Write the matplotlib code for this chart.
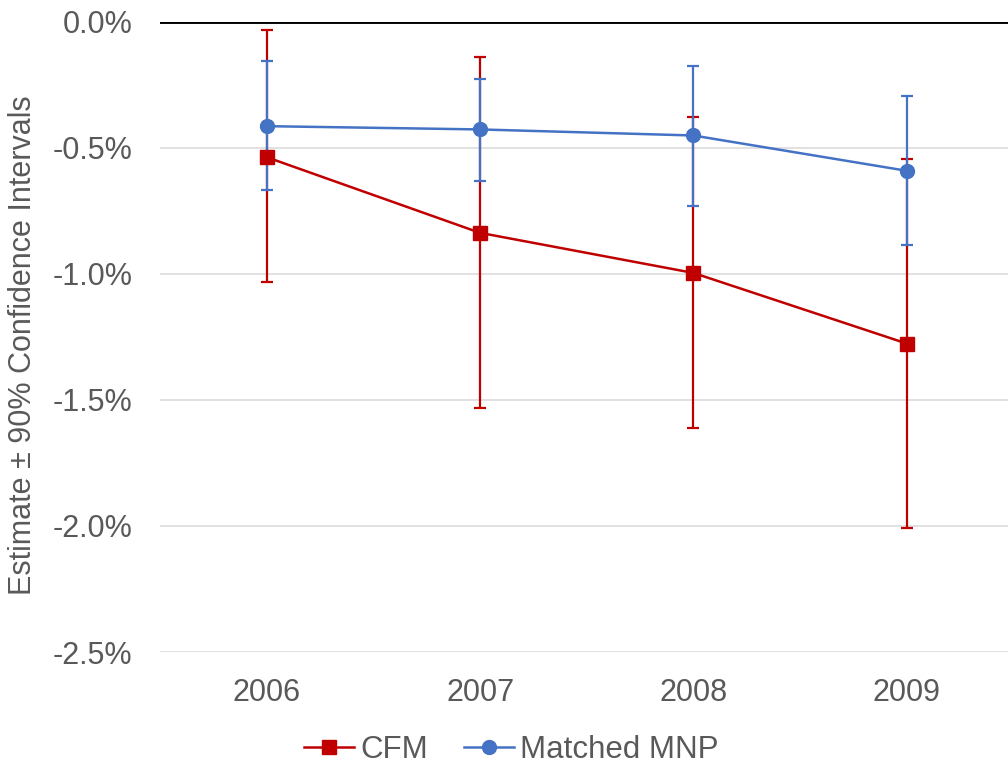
import numpy as np
import matplotlib.pyplot as plt

plt.rcParams['font.family'] = ['Liberation Sans', 'DejaVu Sans']

# Dados (em %)
anos = ['2006', '2007', '2008', '2009']
cfm = [-0.538, -0.838, -0.997, -1.277]
cfm_sup = [-0.034, -0.141, -0.379, -0.547]
cfm_inf = [-1.034, -1.531, -1.610, -2.007]
mnp = [-0.415, -0.428, -0.452, -0.592]
mnp_sup = [-0.157, -0.227, -0.175, -0.297]
mnp_inf = [-0.669, -0.633, -0.731, -0.888]

vermelho = '#C00000'
azul = '#4472C4'
cinza = '#595959'

x = np.arange(len(anos))
cfm = np.array(cfm)
mnp = np.array(mnp)
err_cfm = [cfm - np.array(cfm_inf), np.array(cfm_sup) - cfm]
err_mnp = [mnp - np.array(mnp_inf), np.array(mnp_sup) - mnp]

fig = plt.figure(figsize=(10.08, 7.7), dpi=100)
ax = fig.add_axes([160/1008, 118/770, 853.5/1008, 630.5/770])

# Barras de erro
ax.errorbar(x, cfm, yerr=err_cfm, fmt='none', ecolor=vermelho, elinewidth=1.6,
            capsize=4, capthick=1.6, zorder=3)
ax.errorbar(x, mnp, yerr=err_mnp, fmt='none', ecolor=azul, elinewidth=1.6,
            capsize=4, capthick=1.6, zorder=4)

# Linhas e marcadores
ax.plot(x, cfm, color=vermelho, lw=1.8, marker='s', ms=10, label='CFM', zorder=5)
ax.plot(x, mnp, color=azul, lw=1.8, marker='o', ms=10, label='Matched MNP', zorder=6)

ax.axhline(0, color='black', lw=2.8, zorder=2)

ax.set_xlim(-0.5, 3.5)
ax.set_ylim(-2.5, 0)
ax.set_yticks([0, -0.5, -1.0, -1.5, -2.0, -2.5])
ax.set_yticklabels(['0.0%', '-0.5%', '-1.0%', '-1.5%', '-2.0%', '-2.5%'])
ax.set_xticks(x)
ax.set_xticklabels(anos)
ax.tick_params(axis='both', length=0, labelsize=22, labelcolor=cinza)
ax.tick_params(axis='y', pad=20)
ax.tick_params(axis='x', pad=19)
ax.grid(axis='y', color='#D9D9D9', lw=1.1, zorder=0)
ax.set_axisbelow(True)
for s in ax.spines.values():
    s.set_visible(False)

ax.set_ylabel('Estimate ± 90% Confidence Intervals', fontsize=22, color=cinza)
ax.yaxis.set_label_coords((38 - 160) / 853.5, 0.5 + (21.5 + 315 - 345) / 630.5)

fig.legend(loc='lower center', bbox_to_anchor=(0.507, -0.018), ncol=2, frameon=False,
           fontsize=22.5, labelcolor=cinza, handlelength=1.6, handletextpad=0.2,
           columnspacing=1.15, borderaxespad=0.2)

fig.savefig('out.png', dpi=100)
